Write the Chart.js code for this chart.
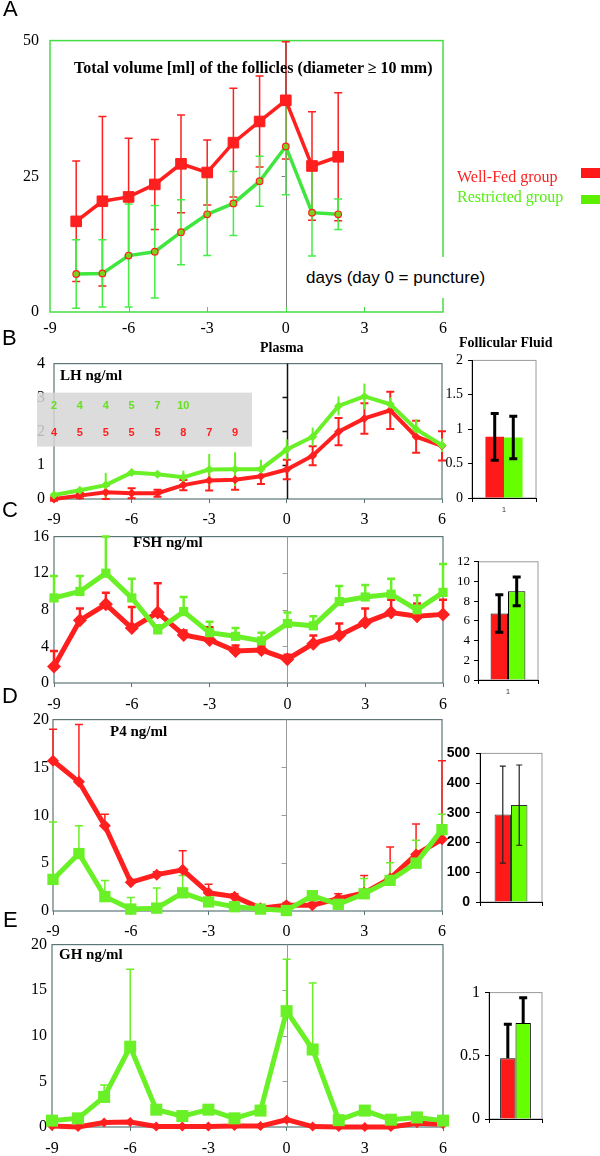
<!DOCTYPE html>
<html>
<head>
<meta charset="utf-8">
<script src="https://cdn.jsdelivr.net/npm/chart.js@4.4.1/dist/chart.umd.min.js"></script>
<style>
  body { margin: 0; background: #fff; }
  #fig { position: relative; width: 600px; height: 1156px; overflow: hidden; font-family: "Liberation Serif", serif; }
  #fig canvas { position: absolute; }
  .t { position: absolute; white-space: nowrap; line-height: 1; z-index: 2; }
  .letter { font-family: "Liberation Sans", sans-serif; font-size: 22px; }
  .ttl { font-weight: bold; font-size: 15px; }
  .sw { position: absolute; z-index: 2; }
</style>
</head>
<body>
<div id="fig">
  <canvas id="cA"></canvas>
  <canvas id="cLH"></canvas>
  <canvas id="cFSH"></canvas>
  <canvas id="cP4"></canvas>
  <canvas id="cGH"></canvas>
  <canvas id="bLH"></canvas>
  <canvas id="bFSH"></canvas>
  <canvas id="bP4"></canvas>
  <canvas id="bGH"></canvas>

  <div class="t letter" style="left:3px;top:-2px">A</div>
  <div class="t" style="left:74px;top:60px;font-weight:bold;font-size:16px">Total volume [ml] of the follicles (diameter ≥ 10 mm)</div>
  <div class="t" style="left:457px;top:169px;font-size:16px;color:#ff1f1f">Well-Fed group</div>
  <div class="t" style="left:457px;top:189px;font-size:16px;color:#55ee11">Restricted group</div>
  <div class="sw" style="left:581px;top:168px;width:19px;height:10px;background:#ff1a1a"></div>
  <div class="sw" style="left:581px;top:195px;width:19px;height:9px;background:#5cf000"></div>
  <div class="t" style="left:303px;top:257px;height:41px;line-height:41px;padding:0 3px;background:#fff;font-family:'Liberation Sans',sans-serif;font-size:17px">days (day 0 = puncture)</div>

  <div class="t letter" style="left:2px;top:327px">B</div>
  <div class="t" style="left:260px;top:341px;font-weight:bold;font-size:14px">Plasma</div>
  <div class="t" style="left:459px;top:336px;font-weight:bold;font-size:14px">Follicular Fluid</div>
  <div class="t ttl" style="left:60px;top:368px">LH ng/ml</div>

  <div class="t letter" style="left:2px;top:499px">C</div>
  <div class="t ttl" style="left:133px;top:535px">FSH ng/ml</div>

  <div class="t letter" style="left:2px;top:685px">D</div>
  <div class="t ttl" style="left:110px;top:724px">P4 ng/ml</div>

  <div class="t letter" style="left:3px;top:909px">E</div>
  <div class="t ttl" style="left:59px;top:947px">GH ng/ml</div>
</div>
<script>
// Panel A: follicle volume, days -8..2
const daysA = [-8, -7, -6, -5, -4, -3, -2, -1, 0, 1, 2];
const volFed = [16.7, 20.4, 21.2, 23.5, 27.3, 25.7, 31.2, 35.1, 39.0, 26.9, 28.6];
const volFedErr = [11.1, 15.6, 10.8, 8.3, 9.0, 6.0, 10.0, 8.4, 10.8, 10.0, 11.8];
const volRes = [7.0, 7.1, 10.4, 11.1, 14.7, 18.0, 20.0, 24.1, 30.5, 18.3, 18.0];
const volResErr = [6.3, 6.2, 9.5, 8.5, 6.0, 7.6, 5.9, 4.6, 8.9, 8.0, 2.8];

// Plasma hormones, days -9..6
const days = [-9, -8, -7, -6, -5, -4, -3, -2, -1, 0, 1, 2, 3, 4, 5, 6];
const xTickVals = [-9, -6, -3, 0, 3, 6];

const lhFed = [0.0, 0.1, 0.2, 0.17, 0.17, 0.41, 0.55, 0.57, 0.67, 0.87, 1.28, 1.99, 2.38, 2.62, 1.84, 1.57];
const lhFedErr = [0.05, 0.08, 0.2, 0.15, 0.1, 0.15, 0.3, 0.3, 0.23, 0.29, 0.28, 0.4, 0.45, 0.55, 0.47, 0.43];
const lhRes = [0.12, 0.26, 0.41, 0.78, 0.73, 0.64, 0.87, 0.88, 0.88, 1.46, 1.84, 2.75, 3.03, 2.80, 2.06, 1.59];
const lhResErr = [0.05, 0.05, 0.36, 0.05, 0.05, 0.2, 0.46, 0.5, 0.28, 0.3, 0.27, 0.28, 0.38, 0.2, 0.3, 0.2];
// number of animals per day (shown in the grey box)
const lhNRes = [2, 4, 4, 5, 7, 10];
const lhNFed = [4, 5, 5, 5, 5, 8, 7, 9];

const fshFed = [1.8, 6.85, 8.6, 6.0, 7.7, 5.25, 4.7, 3.5, 3.6, 2.6, 4.3, 5.2, 6.6, 7.7, 7.3, 7.5];
const fshFedErr = [1.7, 1.3, 1.25, 2.3, 3.2, 0.5, 1.4, 0.6, 0.5, 0.5, 0.9, 1.3, 1.55, 1.4, 1.4, 1.6];
const fshRes = [9.3, 10.0, 12.0, 9.3, 5.8, 7.8, 5.5, 5.1, 4.6, 6.5, 6.25, 8.9, 9.4, 9.7, 8.0, 9.9];
const fshResErr = [2.4, 1.7, 4.0, 2.1, 0.5, 1.6, 1.2, 0.9, 0.9, 1.2, 1.05, 1.7, 1.3, 1.7, 1.6, 3.1];

const p4Fed = [15.7, 13.5, 8.9, 3.0, 3.8, 4.3, 1.9, 1.5, 0.3, 0.6, 0.6, 1.3, 1.9, 3.4, 5.9, 7.5];
const p4FedErr = [3.3, 6.0, 1.2, 0.3, 0.3, 2.0, 0.9, 0.3, 0.3, 0.3, 0.3, 0.5, 1.8, 3.3, 3.2, 8.2];
const p4Res = [3.3, 6.0, 1.5, 0.2, 0.3, 1.9, 0.95, 0.45, 0.2, 0.05, 1.6, 0.7, 1.8, 3.2, 5.0, 8.5];
const p4ResErr = [6.0, 2.9, 1.7, 1.2, 2.1, 1.8, 0.3, 0.3, 0.3, 0.3, 0.3, 0.3, 1.6, 1.85, 2.4, 1.6];

const ghFed = [0.1, 0.0, 0.5, 0.55, 0.05, 0.05, 0.05, 0.1, 0.1, 0.8, 0.05, 0.0, 0.0, 0.0, 0.4, 0.3];
const ghRes = [0.7, 0.95, 3.3, 8.8, 1.9, 1.2, 1.9, 0.95, 1.8, 12.7, 8.5, 0.75, 1.8, 0.8, 1.05, 0.7];
const ghResErr = [0, 0, 1.3, 8.5, 0, 0, 0, 0, 0, 5.7, 7.3, 0, 0, 0, 0, 0];

// Follicular fluid bars: [well-fed, restricted]
const ffLabels = ['1'];
const lhFF = [0.89, 0.88];
const lhFFErr = [0.34, 0.31];
const fshFF = [6.75, 9.0];
const fshFFErr = [1.9, 1.45];
const p4FF = [294, 326];
const p4FFErr = [163, 135];
const ghFF = [0.48, 0.76];
const ghFFErr = [0.27, 0.2];

const RED = '#ff1f1f';
const GREEN = '#6af026';
const RED_BAR = '#ff1a1a';
const GREEN_BAR = '#66ff00';
const FRAME = '#5d7575';

function serif(size, bold) {
    return { family: '"Liberation Serif", serif', size: size, weight: bold ? 'bold' : 'normal' };
}

// tick labels like 2, 1.5, 1, 0.5, 0
const plainNum = v => String(+Number(v).toFixed(2));

function place(cv, box) {
    cv.width = box.w;
    cv.height = box.h;
    cv.style.left = box.l + 'px';
    cv.style.top = box.t + 'px';
    cv.style.width = box.w + 'px';
    cv.style.height = box.h + 'px';
}

// Plot frame, zero-day line and inner ticks
const frame = {
    id: 'frame',
    beforeDraw(chart, args, o) {
        const { ctx, chartArea: a } = chart;
        ctx.save();
        ctx.strokeStyle = o.color;
        ctx.lineWidth = o.width;
        ctx.strokeRect(a.left, a.top, a.right - a.left, a.bottom - a.top);
        const xs = chart.scales.x, ys = chart.scales.y;
        if (o.zeroColor) {
            const px = Math.round(xs.getPixelForValue(0)) + 0.5;
            ctx.strokeStyle = o.zeroColor;
            ctx.lineWidth = o.zeroWidth || 1;
            ctx.beginPath();
            ctx.moveTo(px, a.top);
            ctx.lineTo(px, a.bottom);
            ys.ticks.forEach(t => {
                if (t.value > ys.min && t.value < ys.max) {
                    const py = Math.round(ys.getPixelForValue(t.value)) + 0.5;
                    ctx.moveTo(px - 5, py);
                    ctx.lineTo(px, py);
                }
            });
            ctx.stroke();
        }
        if (o.innerTicks) {
            ctx.strokeStyle = o.color;
            ctx.lineWidth = 1;
            ctx.beginPath();
            xs.ticks.forEach(t => {
                if (t.value > xs.min && t.value < xs.max) {
                    const px = Math.round(xs.getPixelForValue(t.value)) + 0.5;
                    ctx.moveTo(px, a.bottom);
                    ctx.lineTo(px, a.bottom - 5);
                }
            });
            ctx.stroke();
        }
        ctx.restore();
    }
};

// Error bars read from dataset.err
function drawErrors(chart) {
    const ctx = chart.ctx, ys = chart.scales.y;
    chart.data.datasets.forEach((ds, i) => {
        if (!ds.err) return;
        const meta = chart.getDatasetMeta(i);
        ctx.save();
        ctx.strokeStyle = ds.errColor;
        ctx.lineWidth = ds.errWidth;
        meta.data.forEach((pt, j) => {
            const e = ds.err[j];
            if (!e) return;
            const raw = ds.data[j];
            const v = typeof raw === 'object' ? raw.y : raw;
            const top = ys.getPixelForValue(v + e);
            const bot = ys.getPixelForValue(ds.errUpOnly ? v : v - e);
            const c = ds.errCap || 0;
            ctx.beginPath();
            ctx.moveTo(pt.x, top);
            ctx.lineTo(pt.x, bot);
            if (c) {
                ctx.moveTo(pt.x - c, top);
                ctx.lineTo(pt.x + c, top);
                if (!ds.errUpOnly) {
                    ctx.moveTo(pt.x - c, bot);
                    ctx.lineTo(pt.x + c, bot);
                }
            }
            ctx.stroke();
        });
        ctx.restore();
    });
}

const errorBars = {
    id: 'errorBars',
    beforeDatasetsDraw(chart) { if (chart.config.type === 'line') drawErrors(chart); },
    afterDatasetsDraw(chart) { if (chart.config.type === 'bar') drawErrors(chart); }
};

// Grey box with the n per day (LH panel)
const countsBox = {
    id: 'countsBox',
    afterDraw(chart) {
        const { ctx, chartArea: a, scales: { x } } = chart;
        ctx.save();
        ctx.fillStyle = 'rgba(214,214,214,0.85)';
        ctx.fillRect(a.left - 17, a.top + 29, 215, 54);
        ctx.font = 'bold 11px "Liberation Sans", sans-serif';
        ctx.textAlign = 'center';
        ctx.textBaseline = 'middle';
        ctx.fillStyle = '#66e022';
        lhNRes.forEach((n, i) => ctx.fillText(String(n), x.getPixelForValue(days[i]), a.top + 42));
        ctx.fillStyle = '#ff2020';
        lhNFed.forEach((n, i) => ctx.fillText(String(n), x.getPixelForValue(days[i]), a.top + 69));
        ctx.restore();
    }
};

function series(xs, ys, style) {
    return Object.assign({
        data: xs.map((x, i) => ({ x: x, y: ys[i] })),
        tension: 0,
        clip: false
    }, style);
}

function lineChart(id, box, plot, cfg) {
    const cv = document.getElementById(id);
    place(cv, box);
    const outTicks = cfg.xTicks === 'out';
    return new Chart(cv, {
        type: 'line',
        data: { datasets: cfg.datasets },
        options: {
            responsive: false,
            animation: false,
            events: [],
            layout: { padding: { left: 0, top: plot.t - box.t, right: box.l + box.w - plot.r, bottom: 0 } },
            plugins: {
                legend: { display: false },
                tooltip: { enabled: false },
                frame: {
                    color: cfg.frameColor, width: cfg.frameWidth,
                    zeroColor: cfg.zeroColor, zeroWidth: cfg.zeroWidth,
                    innerTicks: cfg.xTicks === 'in'
                }
            },
            scales: {
                x: {
                    type: 'linear', min: -9, max: 6,
                    afterBuildTicks: s => { s.ticks = xTickVals.map(v => ({ value: v })); },
                    ticks: { padding: cfg.xPad, color: '#000', font: serif(16), maxRotation: 0 },
                    grid: { display: outTicks, drawOnChartArea: false, drawTicks: outTicks, tickLength: 4, color: cfg.frameColor },
                    border: { display: false },
                    afterFit: s => { s.height = box.t + box.h - plot.b; }
                },
                y: {
                    min: 0, max: cfg.yMax,
                    ticks: { stepSize: cfg.yStep, padding: cfg.yPad, color: '#000', font: serif(16), callback: plainNum },
                    grid: { display: false, drawTicks: false },
                    border: { display: false },
                    afterFit: s => { s.width = plot.l - box.l; }
                }
            }
        },
        plugins: [frame, errorBars].concat(cfg.plugins || [])
    });
}

function barChart(id, box, plot, vals, errs, cfg) {
    const cv = document.getElementById(id);
    place(cv, box);
    const mk = (i, color) => ({
        data: [vals[i]],
        backgroundColor: color,
        borderColor: cfg.edge || color,
        borderWidth: cfg.edgeW || 0,
        categoryPercentage: cfg.cat,
        barPercentage: 1,
        err: [errs[i]],
        errColor: cfg.errColor,
        errWidth: cfg.errWidth,
        errCap: cfg.errCap,
        errUpOnly: cfg.upOnly
    });
    return new Chart(cv, {
        type: 'bar',
        data: { labels: ffLabels, datasets: [mk(0, RED_BAR), mk(1, GREEN_BAR)] },
        options: {
            responsive: false,
            animation: false,
            events: [],
            layout: { padding: { left: 0, top: plot.t - box.t, right: box.l + box.w - plot.r, bottom: 0 } },
            plugins: {
                legend: { display: false },
                tooltip: { enabled: false },
                frame: { color: '#9a9a9a', width: 1 }
            },
            scales: {
                x: {
                    ticks: { display: cfg.showX, color: '#444', font: { family: '"Liberation Sans", sans-serif', size: 8 }, padding: 3 },
                    grid: { drawOnChartArea: false, tickLength: 4, color: '#000' },
                    border: { color: '#000' },
                    afterFit: s => { s.height = box.t + box.h - plot.b; }
                },
                y: {
                    min: 0, max: cfg.yMax,
                    ticks: { stepSize: cfg.yStep, autoSkip: false, padding: cfg.yPad, color: '#000', font: cfg.yFont, callback: plainNum },
                    grid: { drawOnChartArea: false, tickLength: 4, color: '#000' },
                    border: { color: '#000' },
                    afterFit: s => { s.width = plot.l - box.l; }
                }
            }
        },
        plugins: [frame, errorBars]
    });
}

// A: total follicle volume
lineChart('cA', { l: 0, t: 20, w: 462, h: 320 }, { l: 50, t: 31, r: 443, b: 312 }, {
    yMax: 50, yStep: 25, yPad: 11, xPad: 7, xTicks: 'in',
    frameColor: '#44dd44', frameWidth: 1.5, zeroColor: '#808080', zeroWidth: 1,
    datasets: [
        series(daysA, volFed, {
            order: 0, borderColor: RED, backgroundColor: RED, borderWidth: 3.5,
            pointStyle: 'rect', pointRadius: 7.5, pointBorderWidth: 1,
            err: volFedErr, errColor: RED, errWidth: 1.5, errCap: 4
        }),
        series(daysA, volRes, {
            order: 1, borderColor: '#3ee63e', backgroundColor: '#7ad41e', borderWidth: 3.5,
            pointStyle: 'circle', pointRadius: 3.3, pointBorderColor: RED, pointBorderWidth: 1.2,
            err: volResErr, errColor: '#44ee44', errWidth: 1.5, errCap: 4
        })
    ]
});

// B: LH
lineChart('cLH', { l: 0, t: 345, w: 462, h: 185 }, { l: 54, t: 362, r: 442, b: 499 }, {
    yMax: 4, yStep: 1, yPad: 9, xPad: 7, xTicks: 'out',
    frameColor: FRAME, frameWidth: 1.2, zeroColor: '#111', zeroWidth: 1.5,
    plugins: [countsBox],
    datasets: [
        series(days, lhFed, {
            order: 1, borderColor: RED, backgroundColor: RED, borderWidth: 4,
            pointStyle: 'rectRot', pointRadius: 4.5, pointBorderWidth: 0,
            err: lhFedErr, errColor: RED, errWidth: 2, errCap: 4
        }),
        series(days, lhRes, {
            order: 0, borderColor: GREEN, backgroundColor: GREEN, borderWidth: 4,
            pointStyle: 'rectRot', pointRadius: 4.5, pointBorderWidth: 0,
            err: lhResErr, errColor: GREEN, errWidth: 2, errCap: 0
        })
    ]
});

// C: FSH
lineChart('cFSH', { l: 0, t: 522, w: 462, h: 190 }, { l: 54, t: 532, r: 443, b: 683 }, {
    yMax: 16, yStep: 4, yPad: 5, xPad: 8, xTicks: 'out',
    frameColor: FRAME, frameWidth: 1.2, zeroColor: '#9a9a9a', zeroWidth: 1,
    datasets: [
        series(days, fshFed, {
            order: 1, borderColor: RED, backgroundColor: RED, borderWidth: 5,
            pointStyle: 'rectRot', pointRadius: 7, pointBorderWidth: 0,
            err: fshFedErr, errColor: RED, errWidth: 2.5, errCap: 4, errUpOnly: true
        }),
        series(days, fshRes, {
            order: 0, borderColor: GREEN, backgroundColor: GREEN, borderWidth: 5,
            pointStyle: 'rect', pointRadius: 6.5, pointBorderWidth: 0,
            err: fshResErr, errColor: GREEN, errWidth: 2.5, errCap: 4, errUpOnly: true
        })
    ]
});

// D: P4
lineChart('cP4', { l: 0, t: 706, w: 462, h: 234 }, { l: 53, t: 716, r: 442, b: 911 }, {
    yMax: 20, yStep: 5, yPad: 4, xPad: 7, xTicks: 'out',
    frameColor: FRAME, frameWidth: 1.2, zeroColor: '#9a9a9a', zeroWidth: 1,
    datasets: [
        series(days, p4Fed, {
            order: 1, borderColor: RED, backgroundColor: RED, borderWidth: 5,
            pointStyle: 'rectRot', pointRadius: 6, pointBorderWidth: 0,
            err: p4FedErr, errColor: RED, errWidth: 1.5, errCap: 4, errUpOnly: true
        }),
        series(days, p4Res, {
            order: 0, borderColor: GREEN, backgroundColor: GREEN, borderWidth: 5,
            pointStyle: 'rect', pointRadius: 8, pointBorderWidth: 0,
            err: p4ResErr, errColor: GREEN, errWidth: 1.5, errCap: 4, errUpOnly: true
        })
    ]
});

// E: GH
lineChart('cGH', { l: 0, t: 930, w: 462, h: 226 }, { l: 52, t: 940, r: 443, b: 1127 }, {
    yMax: 20, yStep: 5, yPad: 5, xPad: 8, xTicks: 'out',
    frameColor: FRAME, frameWidth: 1.2, zeroColor: '#9a9a9a', zeroWidth: 1,
    datasets: [
        series(days, ghFed, {
            order: 1, borderColor: RED, backgroundColor: RED, borderWidth: 5,
            pointStyle: 'rectRot', pointRadius: 5, pointBorderWidth: 0
        }),
        series(days, ghRes, {
            order: 0, borderColor: GREEN, backgroundColor: GREEN, borderWidth: 5,
            pointStyle: 'rect', pointRadius: 8.5, pointBorderWidth: 0,
            err: ghResErr, errColor: GREEN, errWidth: 1.5, errCap: 4, errUpOnly: true
        })
    ]
});

// Follicular fluid bar charts
barChart('bLH', { l: 430, t: 347, w: 130, h: 172 }, { l: 472, t: 357, r: 536, b: 498 }, lhFF, lhFFErr, {
    yMax: 2, yStep: 0.5, yPad: 5, yFont: serif(14), cat: 0.58, showX: true,
    errColor: '#000', errWidth: 3, errCap: 4
});
barChart('bFSH', { l: 440, t: 550, w: 120, h: 150 }, { l: 478, t: 560, r: 538, b: 680 }, fshFF, fshFFErr, {
    yMax: 12, yStep: 2, yPad: 4, yFont: serif(13), cat: 0.58, showX: true,
    edge: '#000', edgeW: 1, errColor: '#000', errWidth: 3, errCap: 4
});
barChart('bP4', { l: 425, t: 739, w: 135, h: 180 }, { l: 480, t: 749, r: 542, b: 902 }, p4FF, p4FFErr, {
    yMax: 500, yStep: 100, yPad: 6, yFont: { family: '"Liberation Sans", sans-serif', size: 14, weight: 'bold' }, cat: 0.53, showX: false,
    edge: '#333', edgeW: 1, errColor: '#222', errWidth: 1.2, errCap: 3
});
barChart('bGH', { l: 440, t: 978, w: 120, h: 160 }, { l: 489, t: 988, r: 542, b: 1119 }, ghFF, ghFFErr, {
    yMax: 1, yStep: 0.5, yPad: 5, yFont: serif(16), cat: 0.58, showX: false,
    edge: '#000', edgeW: 1, errColor: '#000', errWidth: 3, errCap: 4, upOnly: true
});
</script>
</body>
</html>
